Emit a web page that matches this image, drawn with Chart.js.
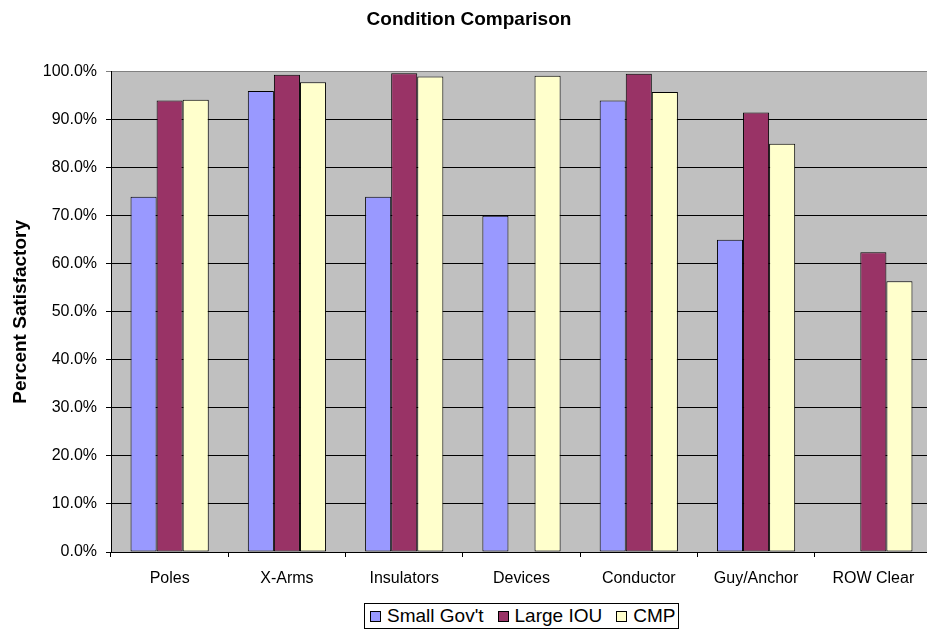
<!DOCTYPE html>
<html>
<head>
<meta charset="utf-8">
<title>Condition Comparison</title>
<script src="https://cdn.jsdelivr.net/npm/chart.js@4.4.1/dist/chart.umd.min.js"></script>
<style>
  html, body { margin: 0; padding: 0; background: #fff; overflow: hidden; }
  body { width: 927px; height: 630px; position: relative; font-family: 'Liberation Sans', Arial, sans-serif; }
  #wrap { position: absolute; left: 0; top: 0; width: 932px; height: 596px; }
  #legend {
    position: absolute; left: 364px; top: 603px; height: 24px;
    border: 1px solid #000; display: flex; align-items: center;
    padding: 0 3px 0 5px; font-size: 19px; color: #000; white-space: nowrap;
  }
  #legend .item { display: flex; align-items: center; margin-right: 14px; }
  #legend .item:last-child { margin-right: 0; }
  #legend .swatch { width: 9px; height: 9px; border: 1px solid #000; margin-right: 6px; }
</style>
</head>
<body>
<div id="wrap"><canvas id="chart" width="932" height="596"></canvas></div>
<div id="legend"></div>
<script>
'use strict';

// ── Data ─────────────────────────────────────────────────────────────────────

const categories = ['Poles', 'X-Arms', 'Insulators', 'Devices', 'Conductor', 'Guy/Anchor', 'ROW Clear'];

const smallGovt = [74.0, 96.0, 74.0, 70.0, 94.0, 65.0, null];
const largeIOU  = [94.0, 99.4, 99.7, null, 99.6, 91.5, 62.4];
const cmp       = [94.2, 97.8, 99.0, 99.2, 95.8, 85.0, 56.4];

const yTicks = [0, 10, 20, 30, 40, 50, 60, 70, 80, 90, 100];

const series = [
  { label: "Small Gov't", data: smallGovt, color: '#9999FF' },
  { label: 'Large IOU',   data: largeIOU,  color: '#993366' },
  { label: 'CMP',         data: cmp,       color: '#FFFFCC' },
];

const FONT = "'Liberation Sans', Arial, sans-serif";

// ── Plot background (grey wall like the spreadsheet chart) ───────────────────

const plotBackground = {
  id: 'plotBackground',
  beforeDraw(chart) {
    const { ctx, chartArea: a } = chart;
    ctx.save();
    ctx.fillStyle = '#C0C0C0';
    ctx.fillRect(a.left, a.top, a.right - a.left, a.bottom - a.top);
    ctx.restore();
  },
};

// ── Chart ────────────────────────────────────────────────────────────────────

new Chart(document.getElementById('chart'), {
  type: 'bar',
  data: {
    labels: categories,
    datasets: series.map(s => ({
      label: s.label,
      data: s.data,
      backgroundColor: s.color,
      borderColor: '#000',
      borderWidth: 1,
      borderSkipped: false,
      categoryPercentage: 0.667,
      barPercentage: 1,
    })),
  },
  options: {
    responsive: false,
    animation: false,
    layout: { padding: { left: 6, right: 0, top: 0, bottom: 0 } },
    plugins: {
      legend: { display: false },
      tooltip: { enabled: false },
      title: {
        display: true,
        text: 'Condition Comparison',
        color: '#000',
        font: { family: FONT, size: 19, weight: 'bold' },
        padding: { top: 8, bottom: 41 },
      },
    },
    scales: {
      x: {
        afterFit: s => { s.height = 44; },
        grid: { drawOnChartArea: false, color: '#000', tickLength: 5, offset: true },
        border: { display: true, color: '#000', width: 1 },
        ticks: { color: '#000', font: { family: FONT, size: 16 }, padding: 12, maxRotation: 0, autoSkip: false },
      },
      y: {
        min: 0,
        max: 100,
        afterFit: s => { s.width = 105; },
        afterBuildTicks: s => { s.ticks = yTicks.map(v => ({ value: v })); },
        grid: {
          color: ctx => (ctx.tick && ctx.tick.value === 100 ? '#808080' : '#000'),
          tickLength: 5,
        },
        border: { display: true, color: '#000', width: 1 },
        ticks: {
          color: '#000',
          padding: 9,
          font: { family: FONT, size: 16 },
          callback: v => v.toFixed(1) + '%',
        },
        title: {
          display: true,
          text: 'Percent Satisfactory',
          color: '#000',
          font: { family: FONT, size: 19, weight: 'bold' },
          padding: { top: 3, bottom: 0 },
        },
      },
    },
  },
  plugins: [plotBackground],
});

// ── Legend box ───────────────────────────────────────────────────────────────

document.getElementById('legend').innerHTML = series.map(s =>
  `<span class="item"><span class="swatch" style="background:${s.color}"></span>${s.label}</span>`
).join('');
</script>
</body>
</html>
